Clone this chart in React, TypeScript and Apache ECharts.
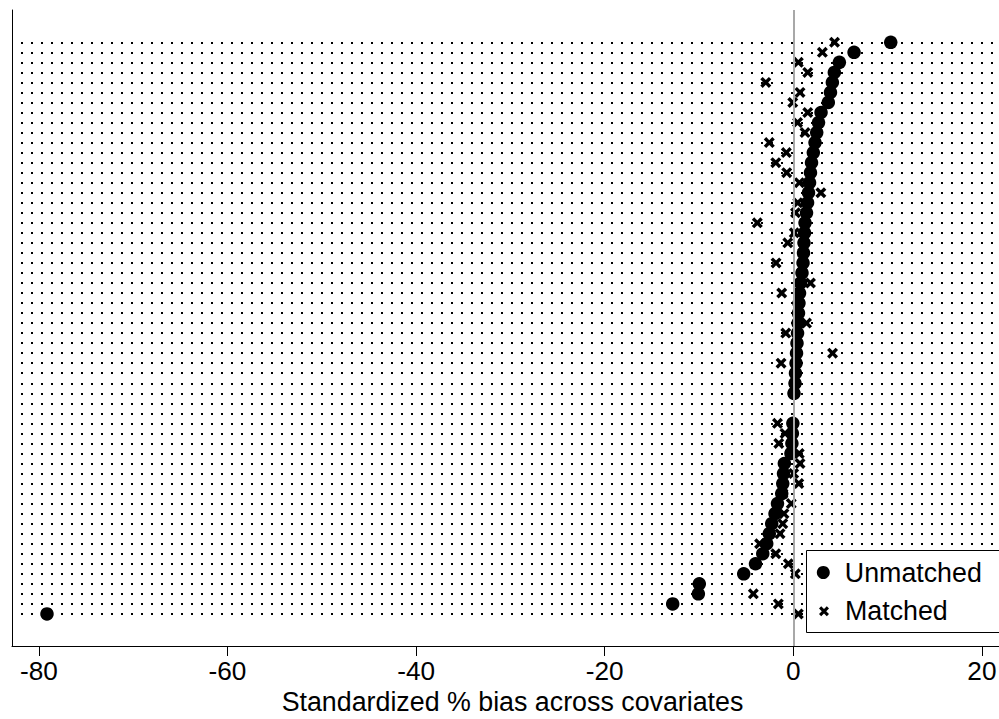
import React, { useEffect, useRef } from 'react';
import * as echarts from 'echarts';

// Standardized % bias per covariate, rows ordered top to bottom (null = no marker)
const unmatched: (number | null)[] = [
  10.33, 6.44, 4.88, 4.35, 4.14, 3.94, 3.71, 2.94, 2.67, 2.48,
  2.3, 2.12, 1.93, 1.82, 1.72, 1.61, 1.51, 1.4, 1.24, 1.19,
  1.13, 1.08, 1.03, 0.92, 0.76, 0.66, 0.6, 0.55, 0.5, 0.45,
  0.39, 0.34, 0.29, 0.23, 0.18, 0.07, null, null, -0.05, -0.1,
  -0.15, -0.25, -0.95, -1.04, -1.12, -1.23, -1.68, -1.94, -2.29, -2.55,
  -2.82, -3.24, -4.01, -5.26, -9.97, -10.07, -12.79, -79.14,
];
const matched: (number | null)[] = [
  4.37, 3.08, 0.53, 1.53, -2.92, 0.71, -0.06, 1.53, 0.45, 1.24,
  -2.55, -0.74, -1.86, -0.7, 0.64, 2.92, 0.47, 0.23, -3.82, 0.1,
  -0.59, 1.0, -1.83, 0.9, 1.82, -1.23, 0.6, 0.5, 1.4, -0.8,
  0.35, 4.16, -1.3, 0.2, 0.15, 0.05, null, null, -1.68, -0.88,
  -1.54, 0.63, 0.71, 0.04, 0.58, -1.1, -0.22, -0.99, -1.12, -1.41,
  -3.58, -1.86, -0.53, 0.21, 2.0, -4.24, -1.59, 0.53,
];
const xTicks = [-80, -60, -40, -20, 0, 20];
const legendLabels = ['Unmatched', 'Matched'];
const axisTitle = 'Standardized % bias across covariates';

const FONT = "'Liberation Sans', Arial, Helvetica, sans-serif";
const N = unmatched.length;
const rowValues = unmatched.map((_, i) => N - i);
const X_SYMBOL =
  'path://M22,0L50,28L78,0L100,22L72,50L100,78L78,100L50,72L22,100L0,78L28,50L0,22Z';

export default function App() {
  const ref = useRef<HTMLDivElement>(null);
  useEffect(() => {
    if (!ref.current) return;
    const chart = echarts.init(ref.current, undefined, { renderer: 'svg' });
    const toPoints = (arr: (number | null)[]) =>
      arr
        .map((v, i) => (v == null ? null : [v, rowValues[i]]))
        .filter((p) => p !== null) as number[][];
    const option: any = {
      animation: false,
      backgroundColor: '#ffffff',
      textStyle: { fontFamily: FONT },
      grid: { left: 12, right: 0, top: 10, bottom: 73, containLabel: false, outerBoundsMode: 'none' },
      xAxis: {
        type: 'value',
        min: -82.85,
        max: 21.81,
        axisLine: { show: true, onZero: false, lineStyle: { color: '#000', width: 1 } },
        axisTick: { show: true, length: 10, customValues: xTicks, lineStyle: { color: '#000', width: 1 } },
        axisLabel: { customValues: xTicks, fontSize: 26.2, color: '#000', margin: 12, fontFamily: FONT },
        splitLine: { show: false },
        name: axisTitle,
        nameLocation: 'middle',
        nameGap: 32,
        nameTextStyle: { fontSize: 26.8, color: '#000', fontFamily: FONT, padding: [0, 0, 0, 14] },
      },
      yAxis: {
        type: 'value',
        min: -2.2,
        max: 61.22,
        axisLine: { show: true, onZero: false, lineStyle: { color: '#000', width: 1 } },
        axisTick: { show: false },
        axisLabel: { show: false },
        splitLine: { show: false },
      },
      legend: [
        {
          data: [{ name: legendLabels[0], icon: 'circle' }],
          selectedMode: false,
          left: 816.8,
          top: 559,
          padding: 0,
          itemWidth: 13,
          itemHeight: 13,
          z: 20,
          textStyle: { fontSize: 26.8, color: '#000', fontFamily: FONT, padding: [0, 0, 0, 10] },
        },
        {
          data: [{ name: legendLabels[1], icon: X_SYMBOL }],
          selectedMode: false,
          left: 819,
          top: 597.7,
          padding: 0,
          itemWidth: 10,
          itemHeight: 10,
          z: 20,
          textStyle: { fontSize: 26.8, color: '#000', fontFamily: FONT, padding: [0, 0, 0, 11] },
        },
      ],
      graphic: [
        {
          type: 'rect',
          z: 10,
          shape: { x: 806.5, y: 550.5, width: 260, height: 82 },
          style: { fill: '#fff', stroke: '#000', lineWidth: 1 },
        },
      ],
      series: [
        {
          type: 'scatter',
          name: 'rows',
          data: [],
          z: 1,
          silent: true,
          markLine: {
            silent: true,
            animation: false,
            symbol: ['none', 'none'],
            label: { show: false },
            emphasis: { disabled: true },
            data: [
              ...rowValues.map((v) => ({
                yAxis: v,
                lineStyle: { type: [2, 8], dashOffset: 1, width: 2, color: '#000' },
              })),
              { xAxis: 0, lineStyle: { type: 'solid', width: 2, color: '#a8a8a8' } },
            ],
          },
        },
        {
          type: 'scatter',
          name: legendLabels[0],
          symbol: 'circle',
          symbolSize: 13.5,
          z: 3,
          itemStyle: { color: '#000', opacity: 1 },
          data: toPoints(unmatched),
        },
        {
          type: 'scatter',
          name: legendLabels[1],
          symbol: X_SYMBOL,
          symbolSize: 11,
          z: 4,
          itemStyle: { color: '#000', opacity: 1 },
          data: toPoints(matched),
        },
      ],
    };
    chart.setOption(option);
    return () => chart.dispose();
  }, []);
  return (
    <div
      ref={ref}
      style={{ position: 'fixed', left: 0, top: 0, width: 999, height: 719, background: '#fff' }}
    />
  );
}
